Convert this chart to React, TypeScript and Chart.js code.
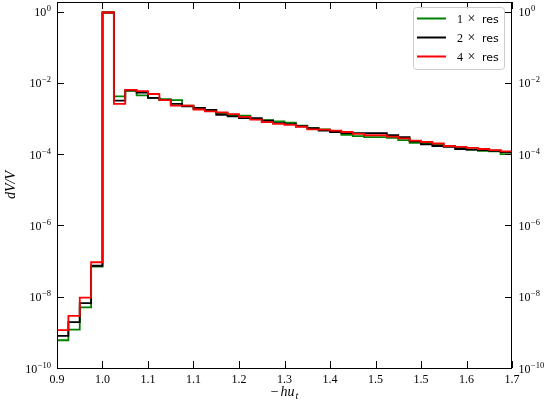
import { useEffect, useRef } from "react";
import { Chart, registerables } from "chart.js";

Chart.register(...registerables);

// ---- data ----
const binEdges: number[] = [
  0.9, 0.92, 0.94, 0.96, 0.98, 1.0, 1.02, 1.04, 1.06, 1.08,
  1.1, 1.12, 1.14, 1.16, 1.18, 1.2, 1.22, 1.24, 1.26, 1.28,
  1.3, 1.32, 1.34, 1.36, 1.38, 1.4, 1.42, 1.44, 1.46, 1.48,
  1.5, 1.52, 1.54, 1.56, 1.58, 1.6, 1.62, 1.64, 1.66, 1.68, 1.7,
];

const res1: number[] = [
  6.0e-10, 1.2e-9, 5.0e-9, 7.0e-8, 0.95,
  4.2e-3, 6.0e-3, 4.5e-3, 3.8e-3, 3.5e-3,
  3.3e-3, 2.3e-3, 1.85e-3, 1.75e-3, 1.4e-3,
  1.25e-3, 1.2e-3, 0.97e-3, 0.9e-3, 0.83e-3,
  0.77e-3, 0.63e-3, 0.54e-3, 0.5e-3, 0.44e-3,
  0.35e-3, 0.32e-3, 0.3e-3, 0.3e-3, 0.29e-3,
  0.25e-3, 0.21e-3, 0.2e-3, 0.19e-3, 0.17e-3,
  0.15e-3, 0.135e-3, 0.125e-3, 0.12e-3, 0.1e-3,
];

const res2: number[] = [
  8.0e-10, 1.95e-9, 6.6e-9, 7.4e-8, 0.95,
  3.2e-3, 6.2e-3, 5.4e-3, 3.8e-3, 3.3e-3,
  2.6e-3, 2.2e-3, 2.0e-3, 1.75e-3, 1.28e-3,
  1.15e-3, 1.03e-3, 1.03e-3, 0.87e-3, 0.75e-3,
  0.7e-3, 0.61e-3, 0.54e-3, 0.46e-3, 0.42e-3,
  0.39e-3, 0.39e-3, 0.39e-3, 0.39e-3, 0.34e-3,
  0.3e-3, 0.23e-3, 0.19e-3, 0.17e-3, 0.16e-3,
  0.14e-3, 0.135e-3, 0.13e-3, 0.125e-3, 0.115e-3,
];

const res4: number[] = [
  1.15e-9, 2.9e-9, 9.5e-9, 9.3e-8, 0.95,
  2.6e-3, 6.4e-3, 5.9e-3, 4.9e-3, 3.3e-3,
  2.3e-3, 2.3e-3, 1.8e-3, 1.6e-3, 1.5e-3,
  1.34e-3, 1.12e-3, 0.93e-3, 0.8e-3, 0.71e-3,
  0.67e-3, 0.59e-3, 0.5e-3, 0.49e-3, 0.46e-3,
  0.42e-3, 0.37e-3, 0.34e-3, 0.34e-3, 0.31e-3,
  0.28e-3, 0.24e-3, 0.22e-3, 0.2e-3, 0.17e-3,
  0.16e-3, 0.15e-3, 0.14e-3, 0.13e-3, 0.12e-3,
];

const seriesPrefixes = ["1", "2", "4"];
const seriesSuffix = "res";
const seriesColors = ["#008000", "#000000", "#ff0000"];

const xTickValues: number[] = [0.9, 0.98, 1.06, 1.14, 1.22, 1.3, 1.38, 1.46, 1.54, 1.62, 1.7];
const xTickLabels: string[] = ["0.9", "1.0", "1.1", "1.1", "1.2", "1.3", "1.4", "1.5", "1.5", "1.6", "1.7"];
const yTickExponents: number[] = [-10, -8, -6, -4, -2, 0];

const X_MIN = 0.9;
const X_MAX = 1.7;
const Y_MIN = 1e-10;
const Y_MAX = 1.87;
const FLOOR = 1e-13;

const SERIF = "'Liberation Serif', 'DejaVu Serif', serif";
const SANS = "'DejaVu Sans', sans-serif";

function stepPoints(vals: number[]) {
  const pts: { x: number; y: number }[] = [{ x: binEdges[0], y: FLOOR }];
  for (let i = 0; i < vals.length; i++) {
    pts.push({ x: binEdges[i], y: vals[i] });
    pts.push({ x: binEdges[i + 1], y: vals[i] });
  }
  pts.push({ x: binEdges[binEdges.length - 1], y: FLOOR });
  return pts;
}

const TICK_LEN = 7;

const framePlugin = {
  id: "frame",
  afterDatasetsDraw(chart: any) {
    const ctx: CanvasRenderingContext2D = chart.ctx;
    const { left, right, top, bottom } = chart.chartArea;
    const xs = chart.scales.x;
    const ys = chart.scales.y;
    ctx.save();
    ctx.strokeStyle = "#000";
    ctx.lineWidth = 1;
    // frame
    ctx.strokeRect(Math.round(left) + 0.5, Math.round(top) + 0.5, Math.round(right - left) - 1, Math.round(bottom - top));
    // x ticks (bottom and top), inward
    ctx.beginPath();
    for (const v of xTickValues) {
      const px = Math.round(xs.getPixelForValue(v)) + 0.5;
      ctx.moveTo(px, bottom);
      ctx.lineTo(px, bottom - TICK_LEN);
      ctx.moveTo(px, top);
      ctx.lineTo(px, top + TICK_LEN);
    }
    // y ticks (left and right), inward
    for (const e of yTickExponents) {
      const py = Math.round(ys.getPixelForValue(Math.pow(10, e))) + 0.5;
      ctx.moveTo(left, py);
      ctx.lineTo(left + TICK_LEN, py);
      ctx.moveTo(right, py);
      ctx.lineTo(right - TICK_LEN, py);
    }
    ctx.stroke();

    // y tick labels (10^e), both sides
    ctx.fillStyle = "#000";
    ctx.textBaseline = "alphabetic";
    for (const e of yTickExponents) {
      const py = ys.getPixelForValue(Math.pow(10, e));
      const base = "10";
      const sup = e === 0 ? "0" : "\u2212" + String(Math.abs(e));
      ctx.font = `12px ${SERIF}`;
      const wb = ctx.measureText(base).width;
      ctx.font = `8.5px ${SERIF}`;
      const ws = ctx.measureText(sup).width;
      // left
      const lx = left - 6 - ws - wb - 0.5;
      ctx.font = `12px ${SERIF}`;
      ctx.textAlign = "left";
      ctx.fillText(base, lx, py + 4.5);
      ctx.font = `8.5px ${SERIF}`;
      ctx.fillText(sup, lx + wb + 0.5, py - 0.5);
      // right
      const rx = right + 6.5;
      ctx.font = `12px ${SERIF}`;
      ctx.fillText(base, rx, py + 4.5);
      ctx.font = `8.5px ${SERIF}`;
      ctx.fillText(sup, rx + wb + 0.5, py - 0.5);
    }

    // x axis title: −hu_t
    const cx = (left + right) / 2;
    ctx.font = `14px ${SERIF}`;
    const wMinus = ctx.measureText("\u2212").width;
    ctx.font = `italic 14px ${SERIF}`;
    const wHu = ctx.measureText("hu").width;
    ctx.font = `italic 10px ${SERIF}`;
    const wT = ctx.measureText("t").width;
    const total = wMinus + 2 + wHu + 1 + wT;
    let tx = cx - total / 2;
    const tb = 396;
    ctx.font = `14px ${SERIF}`;
    ctx.fillText("\u2212", tx, tb);
    tx += wMinus + 2;
    ctx.font = `italic 14px ${SERIF}`;
    ctx.fillText("hu", tx, tb);
    tx += wHu + 1;
    ctx.font = `italic 10px ${SERIF}`;
    ctx.fillText("t", tx, tb + 3);

    // y axis title: dV/V
    ctx.save();
    ctx.translate(15, (top + bottom) / 2);
    ctx.rotate(-Math.PI / 2);
    ctx.font = `italic 14px ${SERIF}`;
    ctx.textAlign = "center";
    ctx.fillText("dV/V", 0, 0);
    ctx.restore();

    // legend
    const lx0 = 413.5, ly0 = 7.5, lw = 91, lh = 62, r = 3;
    ctx.beginPath();
    ctx.moveTo(lx0 + r, ly0);
    ctx.lineTo(lx0 + lw - r, ly0);
    ctx.quadraticCurveTo(lx0 + lw, ly0, lx0 + lw, ly0 + r);
    ctx.lineTo(lx0 + lw, ly0 + lh - r);
    ctx.quadraticCurveTo(lx0 + lw, ly0 + lh, lx0 + lw - r, ly0 + lh);
    ctx.lineTo(lx0 + r, ly0 + lh);
    ctx.quadraticCurveTo(lx0, ly0 + lh, lx0, ly0 + lh - r);
    ctx.lineTo(lx0, ly0 + r);
    ctx.quadraticCurveTo(lx0, ly0, lx0 + r, ly0);
    ctx.closePath();
    ctx.fillStyle = "rgba(255,255,255,0.8)";
    ctx.fill();
    ctx.strokeStyle = "#cccccc";
    ctx.lineWidth = 1;
    ctx.stroke();

    for (let i = 0; i < seriesPrefixes.length; i++) {
      const yy = 18.5 + i * 19;
      ctx.strokeStyle = seriesColors[i];
      ctx.lineWidth = 2;
      ctx.beginPath();
      ctx.moveTo(417, yy);
      ctx.lineTo(446, yy);
      ctx.stroke();
      ctx.fillStyle = "#000";
      ctx.textAlign = "left";
      ctx.font = `12px ${SERIF}`;
      ctx.fillText(seriesPrefixes[i], 457, yy + 4.5);
      ctx.font = `14px ${SERIF}`;
      ctx.fillText("\u00d7", 467.5, yy + 4.5);
      ctx.font = `11px ${SANS}`;
      ctx.fillText(seriesSuffix, 482, yy + 4.5);
    }
    ctx.restore();
  },
};

export default function App() {
  const ref = useRef<HTMLCanvasElement | null>(null);
  useEffect(() => {
    document.body.style.margin = "0";
    const canvas = ref.current;
    if (!canvas) return;
    const seriesVals = [res1, res2, res4];
    const chart = new Chart(canvas, {
      type: "line",
      data: {
        datasets: seriesVals.map((vals, i) => ({
          label: seriesPrefixes[i] + " \u00d7 " + seriesSuffix,
          data: stepPoints(vals),
          borderColor: seriesColors[i],
          backgroundColor: seriesColors[i],
          borderWidth: 1.8,
          pointRadius: 0,
          pointHoverRadius: 0,
          tension: 0,
          fill: false,
          borderJoinStyle: "miter" as const,
          order: 3 - i,
        })),
      },
      options: {
        animation: false,
        responsive: false,
        maintainAspectRatio: false,
        layout: { padding: 0 },
        events: [],
        plugins: {
          legend: { display: false },
          tooltip: { enabled: false },
          title: { display: false },
        },
        scales: {
          x: {
            type: "linear",
            position: "bottom",
            min: X_MIN,
            max: X_MAX,
            afterBuildTicks: (axis: any) => {
              axis.ticks = xTickValues.map((v) => ({ value: v }));
            },
            afterFit: (s: any) => {
              s.height = 33;
              s.paddingLeft = 0;
              s.paddingRight = 0;
            },
            grid: { display: false, drawTicks: false },
            border: { display: false },
            ticks: {
              autoSkip: false,
              maxRotation: 0,
              padding: 5,
              color: "#000",
              font: { family: SERIF, size: 12 },
              callback: (_v: any, i: number) => xTickLabels[i],
            },
          },
          xTop: {
            type: "linear",
            position: "top",
            min: X_MIN,
            max: X_MAX,
            afterFit: (s: any) => {
              s.height = 2;
              s.paddingLeft = 0;
              s.paddingRight = 0;
            },
            grid: { display: false, drawTicks: false },
            border: { display: false },
            ticks: { display: false },
          },
          y: {
            type: "logarithmic",
            position: "left",
            min: Y_MIN,
            max: Y_MAX,
            afterBuildTicks: (axis: any) => {
              axis.ticks = yTickExponents.map((e) => ({ value: Math.pow(10, e) }));
            },
            afterFit: (s: any) => {
              s.width = 57;
              s.paddingTop = 0;
              s.paddingBottom = 0;
            },
            grid: { display: false, drawTicks: false },
            border: { display: false },
            ticks: { display: false },
          },
          yRight: {
            type: "logarithmic",
            position: "right",
            min: Y_MIN,
            max: Y_MAX,
            afterFit: (s: any) => {
              s.width = 36;
              s.paddingTop = 0;
              s.paddingBottom = 0;
            },
            grid: { display: false, drawTicks: false },
            border: { display: false },
            ticks: { display: false },
          },
        },
      } as any,
      plugins: [framePlugin],
    });
    return () => chart.destroy();
  }, []);
  return (
    <canvas
      ref={ref}
      width={548}
      height={401}
      style={{ display: "block", width: 548, height: 401 }}
    />
  );
}
